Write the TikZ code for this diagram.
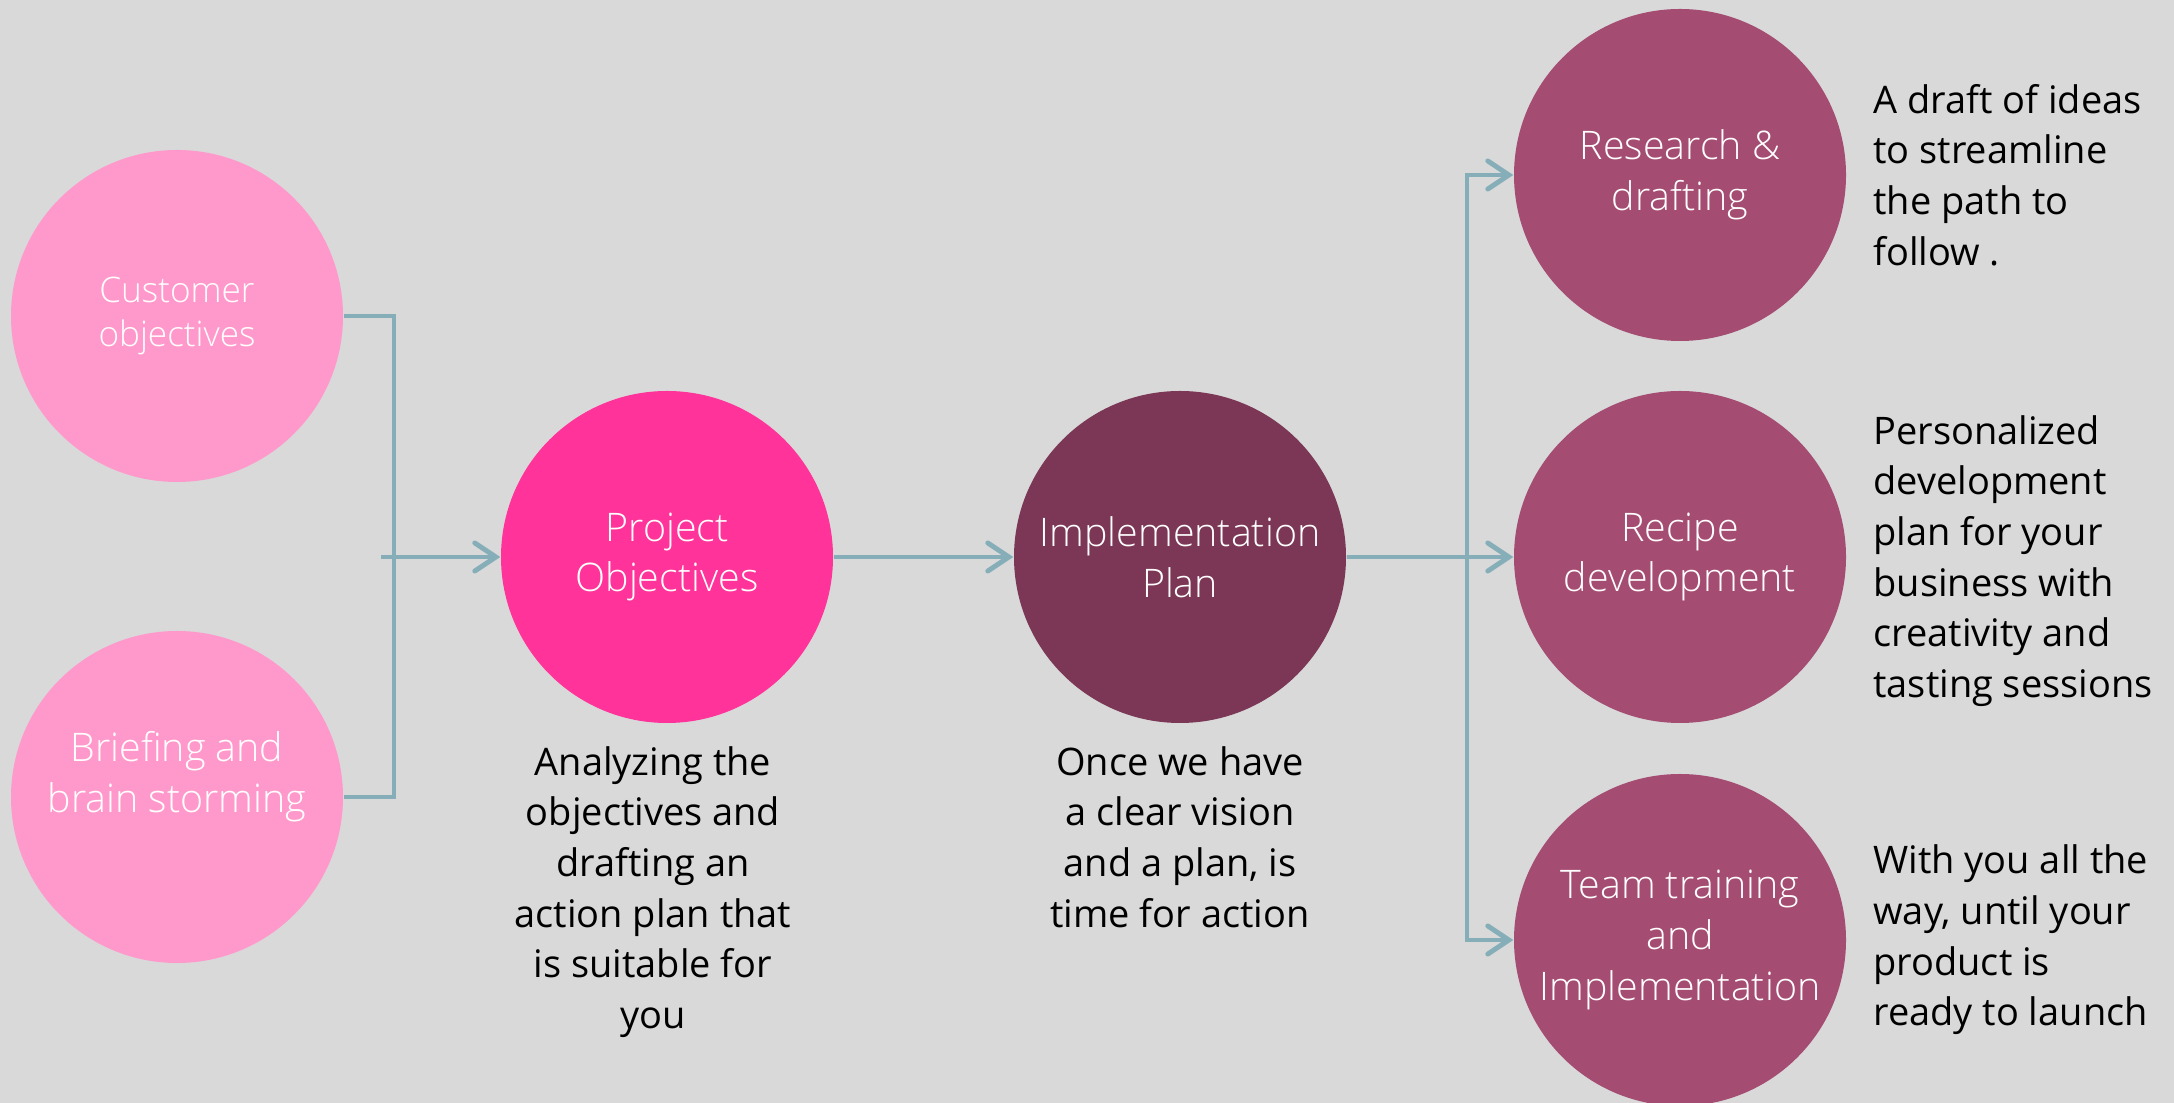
\documentclass[tikz,border=0pt]{standalone}
\usepackage{fontspec}
\setmainfont{Open Sans}
\newfontfamily\thinfont{Open Sans Light}
\usepackage{tikz}
\usetikzlibrary{arrows.meta,positioning}
\definecolor{bg}{HTML}{D9D9D9}
\definecolor{ln}{HTML}{86AEB8}
\definecolor{pinkA}{HTML}{FF99CC}
\definecolor{pinkB}{HTML}{FF3399}
\definecolor{plum}{HTML}{7B3755}
\definecolor{rose}{HTML}{A54C72}
\tikzset{c/.style={circle,minimum size=3.32cm,inner sep=0pt,align=center,text=white,font=\thinfont\fontsize{11.2}{14.4}\selectfont}}
\tikzset{cs/.style={c,font=\thinfont\fontsize{10}{12.6}\selectfont}}
\tikzset{t/.style={inner sep=0pt,font=\fontsize{10.8}{14.4}\selectfont}}
\tikzset{ln/.style={draw=ln,line width=1.4pt}}
\tikzset{a/.style={ln,-{Straight Barb[length=6pt,width=8pt,line cap=round]}}}

\begin{document}
\begin{tikzpicture}
  \fill[bg] (0,0) rectangle (21.74,11.03);
  \useasboundingbox (0,0) rectangle (21.74,11.03);
  % inputs
  \node[cs,fill=pinkA] (cust) at (1.77,7.87) {Customer\\objectives};
  \node[c,fill=pinkA] (brief) at (1.77,3.06) {Briefing and\\brain storming\\\mbox{}};
  % main line
  \node[c,fill=pinkB] (proj) at (6.67,5.46) {Project\\Objectives};
  \node[c,fill=plum] (impl) at (11.80,5.46) {Implementation\\Plan};
  % outputs
  \node[c,fill=rose] (res) at (16.80,9.28) {Research \&\\drafting};
  \node[c,fill=rose] (rec) at (16.80,5.46) {Recipe\\development};
  \node[c,fill=rose] (team) at (16.80,1.63) {Team training\\and\\Implementation};
  % descriptions
  \node[t,align=center,below=0.22cm of proj,xshift=-0.14cm] (projTxt) {Analyzing the\\objectives and\\drafting an\\action plan that\\is suitable for\\you};
  \node[t,align=center,below=0.22cm of impl] (implTxt) {Once we have\\a clear vision\\and a plan, is\\time for action};
  \node[t,align=left,right=0.26cm of res] (resTxt) {A draft of ideas\\to streamline\\the path to\\follow .};
  \node[t,align=left,right=0.26cm of rec,yshift=-0.04cm] (recTxt) {Personalized\\development\\plan for your\\business with\\creativity and\\tasting sessions};
  \node[t,align=left,right=0.26cm of team] (teamTxt) {With you all the\\way, until your\\product is\\ready to launch};
  % connectors
  \coordinate (jn) at (3.94,5.46);
  \coordinate (mg) at (3.81,5.46);
  \coordinate (fk) at (14.67,5.46);
  \draw[ln] (cust.east) -| (jn) |- (brief.east);
  \draw[a] (mg) -- (proj);
  \draw[a] (proj) -- (impl);
  \draw[a] (impl) -- (rec);
  \draw[a] (fk) |- (res);
  \draw[a] (fk) |- (team);
\end{tikzpicture}
\end{document}
